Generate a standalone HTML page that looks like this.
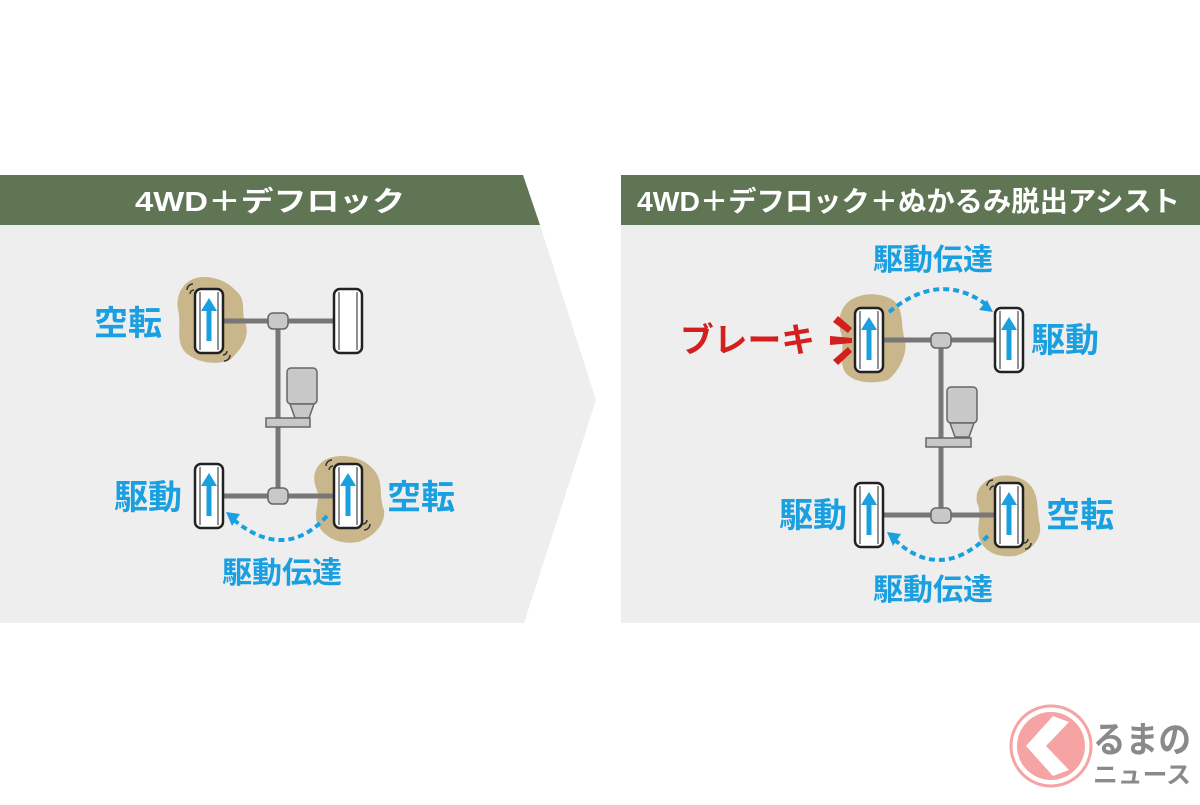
<!DOCTYPE html>
<html><head><meta charset="utf-8"><style>
html,body{margin:0;padding:0;background:#fff;}
svg text{font-family:"Liberation Sans","Noto Sans CJK JP",sans-serif;font-weight:bold;}
</style></head><body>
<svg width="1200" height="800" viewBox="0 0 1200 800" xmlns="http://www.w3.org/2000/svg">
<defs>
<g id="wheel">
<rect x="0" y="0" width="28" height="64" rx="6" fill="#fff" stroke="#222" stroke-width="2.5"/>
<line x1="5" y1="3" x2="5" y2="61" stroke="#222" stroke-width="1"/>
<line x1="23" y1="3" x2="23" y2="61" stroke="#222" stroke-width="1"/>
</g>
<g id="arrow">
<rect x="11.5" y="18" width="5" height="34" fill="#1aa0e0"/>
<polygon points="6,22 14,9 22,22" fill="#1aa0e0"/>
</g>
<g id="engine">
<rect x="0" y="0" width="30" height="36" rx="4" fill="#c8c8c8" stroke="#666" stroke-width="1.5"/>
<polygon points="3,36 27,36 22,50 8,50" fill="#c8c8c8" stroke="#666" stroke-width="1.5"/>
</g>
</defs>
<rect width="1200" height="800" fill="#fff"/>
<polygon points="0,175 523,175 540,225 596,400 524,623 0,623" fill="#eeeeee"/>
<polygon points="0,175 523,175 540,225 0,225" fill="#5f7553"/>
<text x="270" y="211" font-size="28" fill="#fff" text-anchor="middle" textLength="270" lengthAdjust="spacingAndGlyphs">4WD＋デフロック</text>
<rect x="621" y="175" width="579" height="448" fill="#eeeeee"/>
<rect x="621" y="175" width="579" height="50" fill="#5f7553"/>
<text x="637" y="211" font-size="28" fill="#fff" textLength="543" lengthAdjust="spacingAndGlyphs">4WD＋デフロック＋ぬかるみ脱出アシスト</text>

<!-- LEFT DIAGRAM -->
<path d="M188,282 C200,272 225,278 235,290 C248,300 240,312 246,325 C250,340 238,352 230,360 C215,366 195,362 185,352 C175,340 182,325 178,310 C176,298 180,288 188,282Z" fill="#c9b68b"/>
<path d="M322,462 C335,452 360,455 372,468 C385,480 378,495 384,510 C386,525 372,538 358,542 C340,545 325,538 318,525 C312,512 322,500 316,488 C312,476 315,468 322,462Z" fill="#c9b68b"/>
<g stroke="#777" stroke-width="5" fill="none">
<line x1="222" y1="321" x2="333" y2="321"/>
<line x1="222" y1="496" x2="333" y2="496"/>
<line x1="278" y1="321" x2="278" y2="496"/>
</g>
<rect x="268" y="313" width="20" height="16" rx="5" fill="#c8c8c8" stroke="#666" stroke-width="1.5"/>
<rect x="268" y="488" width="20" height="16" rx="5" fill="#c8c8c8" stroke="#666" stroke-width="1.5"/>
<use href="#engine" x="287" y="368"/>
<rect x="266" y="418" width="44" height="9" fill="#c8c8c8" stroke="#666" stroke-width="1.5"/>
<use href="#wheel" x="195" y="289"/><use href="#arrow" x="195" y="289"/>
<use href="#wheel" x="334" y="289"/>
<use href="#wheel" x="195" y="464"/><use href="#arrow" x="195" y="464"/>
<use href="#wheel" x="334" y="464"/><use href="#arrow" x="334" y="464"/>
<g stroke="#333" stroke-width="1.5" fill="none">
<path d="M187,290 a6,6 0 0 1 6,-6"/><path d="M190,294 a4,4 0 0 1 4,-4"/>
<path d="M230,355 a6,6 0 0 1 -6,6"/><path d="M227,351 a4,4 0 0 1 -4,4"/>
<path d="M326,466 a6,6 0 0 1 6,-6"/><path d="M329,470 a4,4 0 0 1 4,-4"/>
<path d="M370,524 a6,6 0 0 1 -6,6"/><path d="M367,520 a4,4 0 0 1 -4,4"/>
</g>
<path d="M327,516 Q285,562 234,520" stroke="#1aa0e0" stroke-width="4" fill="none" stroke-dasharray="6,4"/>
<polygon points="226,512 240,514 232,526" fill="#1aa0e0"/>
<g fill="#1aa0e0">
<text x="94" y="335" font-size="34">空転</text>
<text x="114" y="509" font-size="34">駆動</text>
<text x="387" y="509" font-size="34">空転</text>
<text x="222" y="583" font-size="30">駆動伝達</text>
</g>

<!-- RIGHT DIAGRAM -->
<path d="M848,302 C860,292 880,292 893,300 C905,310 900,325 905,340 C908,355 898,372 888,380 C870,385 852,382 845,372 C838,360 846,345 840,330 C838,315 842,308 848,302Z" fill="#c9b68b"/>
<path d="M985,482 C998,472 1020,474 1030,485 C1040,496 1036,510 1040,525 C1042,540 1030,552 1015,556 C998,558 985,552 980,540 C975,528 983,515 977,503 C975,492 980,486 985,482Z" fill="#c9b68b"/>
<g stroke="#777" stroke-width="5" fill="none">
<line x1="882" y1="340" x2="995" y2="340"/>
<line x1="882" y1="515" x2="995" y2="515"/>
<line x1="941" y1="340" x2="941" y2="515"/>
</g>
<rect x="931" y="333" width="20" height="15" rx="5" fill="#c8c8c8" stroke="#666" stroke-width="1.5"/>
<rect x="931" y="508" width="20" height="15" rx="5" fill="#c8c8c8" stroke="#666" stroke-width="1.5"/>
<use href="#engine" x="947" y="387"/>
<rect x="926" y="438" width="45" height="9" fill="#c8c8c8" stroke="#666" stroke-width="1.5"/>
<use href="#wheel" x="855" y="308"/><use href="#arrow" x="855" y="308"/>
<use href="#wheel" x="995" y="308"/><use href="#arrow" x="995" y="308"/>
<use href="#wheel" x="855" y="483"/><use href="#arrow" x="855" y="483"/>
<use href="#wheel" x="995" y="483"/><use href="#arrow" x="995" y="483"/>
<g stroke="#333" stroke-width="1.5" fill="none">
<path d="M987,486 a6,6 0 0 1 6,-6"/><path d="M990,490 a4,4 0 0 1 4,-4"/>
<path d="M1031,543 a6,6 0 0 1 -6,6"/><path d="M1028,539 a4,4 0 0 1 -4,4"/>
</g>
<g fill="#d41f1f">
<polygon points="838,316 852,328 848,333 833,322"/>
<polygon points="830,336 852,338 852,343 830,345"/>
<polygon points="833,360 848,347 852,352 838,365"/>
</g>
<path d="M889,312 Q940,270 987,305" stroke="#1aa0e0" stroke-width="4" fill="none" stroke-dasharray="6,4"/>
<polygon points="993,312 979,310 987,300" fill="#1aa0e0"/>
<path d="M988,536 Q940,582 895,540" stroke="#1aa0e0" stroke-width="4" fill="none" stroke-dasharray="6,4"/>
<polygon points="887,532 901,534 893,546" fill="#1aa0e0"/>
<text x="680" y="352" font-size="34" fill="#d41f1f" textLength="135" lengthAdjust="spacingAndGlyphs">ブレーキ</text>
<g fill="#1aa0e0">
<text x="873" y="270" font-size="30">駆動伝達</text>
<text x="1031" y="352" font-size="34">駆動</text>
<text x="779" y="527" font-size="34">駆動</text>
<text x="1046" y="527" font-size="34">空転</text>
<text x="873" y="600" font-size="30">駆動伝達</text>
</g>

<!-- logo -->
<circle cx="1051" cy="746" r="40" fill="#fff" stroke="#f6a3a3" stroke-width="3"/>
<circle cx="1051" cy="746" r="34" fill="#f6a3a3"/>
<polygon points="1026,746 1053,716 1069,722 1046,746 1069,770 1053,776" fill="#fff"/>
<text x="1093" y="752" font-size="36" fill="#8a8a8a" textLength="98" lengthAdjust="spacingAndGlyphs">るまの</text>
<text x="1093" y="783" font-size="24" fill="#8a8a8a" textLength="98" lengthAdjust="spacingAndGlyphs">ニュース</text>
</svg>
</body></html>
